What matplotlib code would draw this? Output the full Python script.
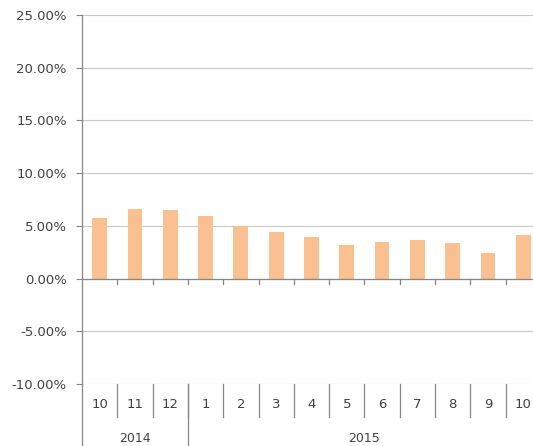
import matplotlib
matplotlib.use("Agg")
import matplotlib.pyplot as plt
from matplotlib.lines import Line2D
from matplotlib.ticker import FuncFormatter, FixedLocator

# data (monthly rate, %)
months = ["10", "11", "12", "1", "2", "3", "4", "5", "6", "7", "8", "9", "10"]
years = ["2014", "2015"]
year_counts = [3, 10]
values = [5.76, 6.58, 6.48, 5.91, 5.03, 4.39, 3.92, 3.22, 3.44, 3.70, 3.35, 2.40, 4.17]

W, H = 533, 446
fig = plt.figure(figsize=(W / 100, H / 100), dpi=100)

# plot area: x from 82px, 13 categories of ~35.3px (runs past the right edge)
left, cat_w = 82, 35.3
y_top, y_bot = 15, 384
ax = fig.add_axes([left / W, (H - y_bot) / H, len(months) * cat_w / W, (y_bot - y_top) / H])

x = list(range(len(months)))
ax.bar(x, values, width=0.42, color="#FAC08F", zorder=3)

ax.set_xlim(-0.5, len(months) - 0.5)
ax.set_ylim(-10, 25)
ax.yaxis.set_major_locator(FixedLocator([-10, -5, 0, 5, 10, 15, 20, 25]))
ax.yaxis.set_major_formatter(FuncFormatter(lambda v, p: f"{v:.2f}%"))
ax.tick_params(axis="y", length=4, color="#868686", labelsize=9.5, labelcolor="#404040", pad=7)
ax.grid(axis="y", color="#c8c8c8", linewidth=0.8, zorder=0)
ax.set_xticks([])

for s in ["top", "right", "bottom"]:
    ax.spines[s].set_visible(False)
ax.spines["left"].set_color("#868686")
ax.spines["left"].set_linewidth(0.9)

# horizontal axis line at zero with tick marks at category boundaries
ax.axhline(0, color="#868686", linewidth=0.9, zorder=4)
for b in range(1, len(months)):
    ax.plot([b - 0.5, b - 0.5], [0, -0.55], color="#868686", linewidth=0.9, zorder=4)

# category label area below the plot
tr = ax.get_xaxis_transform()
px = 1.0 / (y_bot - y_top)  # one pixel in axes fraction
row1_bot = -(417 - y_bot) * px
row2_bot = -(H - y_bot + 5) * px

# left axis continues down through the label rows
ax.add_line(Line2D([-0.5, -0.5], [0, row2_bot], transform=tr, color="#868686",
                   linewidth=0.9, clip_on=False))

for i, m in enumerate(months):
    ax.text(i, -(404 - y_bot) * px, m, transform=tr, ha="center", va="center",
            fontsize=9.5, color="#404040")
    if i > 0:
        ax.add_line(Line2D([i - 0.5, i - 0.5], [0, row1_bot], transform=tr,
                           color="#868686", linewidth=0.9, clip_on=False))

start = 0
for yr, n in zip(years, year_counts):
    mid = start + (n - 1) / 2
    if yr == "2015":
        mid = start + 4.5
    ax.text(mid, -(438 - y_bot) * px, yr, transform=tr, ha="center", va="center",
            fontsize=9, color="#404040")
    start += n
    if start < len(months):
        ax.add_line(Line2D([start - 0.5, start - 0.5], [0, row2_bot], transform=tr,
                           color="#868686", linewidth=0.9, clip_on=False))

fig.savefig("out.png", dpi=100)
